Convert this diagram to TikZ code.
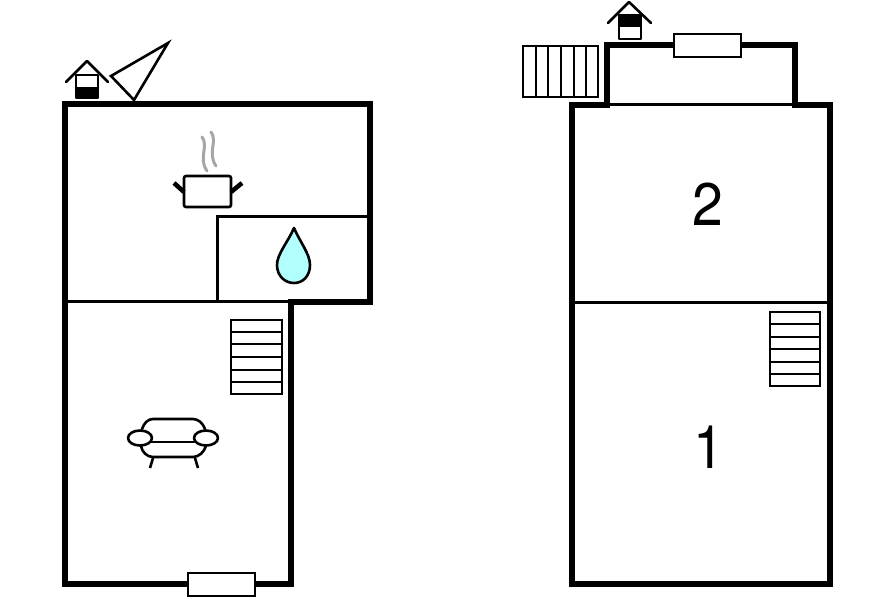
\documentclass[tikz,border=0pt]{standalone}
\usepackage{fontspec}
\setmainfont{TeX Gyre Heros}
\definecolor{dropblue}{HTML}{B2FFFF}
\tikzset{
  wall/.style={line width=5.4pt, miter limit=10},
  thinwall/.style={line width=3pt},
  fitting/.style={draw, fill=white, line width=2.6pt},
  symbol/.style={line width=2.6pt, line cap=round, line join=round},
  steam/.style={line width=3pt, gray!70, line cap=round},
  number/.style={inner sep=0pt, xscale=0.92, font=\fontsize{60}{62}\selectfont}
}
\begin{document}
\begin{tikzpicture}[x=1pt, y=-1pt]
  \useasboundingbox (0,0) rectangle (896,597);
  % left plan
  \draw[thinwall] (65,301) -- (291,301);
  \draw[thinwall] (217,301) -- (217,216) -- (370,216);
  \draw[wall] (65,104) -- (370,104) -- (370,302) -- (291,302) -- (291,584) -- (65,584) -- cycle;
  \draw[fitting] (188,573) rectangle (255,596);
  % stairs
  \draw[fitting] (231,320) rectangle (282,394);
  \foreach \y in {332,344,357,370,382}
    \draw[line width=2.6pt] (231,\y) -- (282,\y);
  % house and triangle
  \fill (75,87) rectangle (99,98);
  \draw[symbol] (76,75) rectangle (98,98);
  \draw[symbol] (66,82) -- (87,61) -- (108,82);
  \draw[symbol, line join=miter] (168,43) -- (111,76) -- (134,100) -- cycle;
  % pot
  \draw[symbol, line cap=butt, rounded corners=2pt] (184,176) -- (231,176) -- (231,207) -- (184,207) -- cycle;
  \draw[line width=4.5pt] (174,183) -- (184,192);
  \draw[line width=4.5pt] (242,183) -- (231,192);
  \draw[steam] (202,137) .. controls (209,146) and (198,158) .. (207,171);
  \draw[steam] (211,132) .. controls (218,141) and (207,153) .. (216,166);
  % drop
  \draw[symbol, fill=dropblue] (294,228) .. controls (288,242) and (277,254) .. (277,265) .. controls (277,276) and (285,283) .. (294,283) .. controls (303,283) and (310,276) .. (310,265) .. controls (310,254) and (300,242) .. (294,228) -- cycle;
  % sofa
  \draw[symbol] (142,429) .. controls (144,423) and (148,419) .. (153,419) -- (193,419) .. controls (198,419) and (203,423) .. (205,429);
  \draw[symbol] (150,442) -- (194,442);
  \draw[symbol] (141,446) .. controls (142,452) and (147,457) .. (153,457) -- (193,457) .. controls (199,457) and (204,452) .. (206,446);
  \draw[symbol, line cap=butt] (153,458) -- (150,468);
  \draw[symbol, line cap=butt] (195,458) -- (198,468);
  \draw[symbol] (140,438) ellipse (12 and 7.5);
  \draw[symbol] (206,438) ellipse (12 and 7.5);
  % right plan
  \draw[thinwall] (607,104) -- (795,104);
  \draw[thinwall] (572,302) -- (830,302);
  \draw[wall] (572,105) -- (607,105) -- (607,45) -- (795,45) -- (795,105) -- (830,105) -- (830,584) -- (572,584) -- cycle;
  \draw[fitting] (674,34) rectangle (741,57);
  % outside stairs
  \draw[fitting] (523,46) rectangle (598,97);
  \foreach \x in {536,548,561,574,586}
    \draw[line width=2.6pt] (\x,46) -- (\x,97);
  % inside stairs
  \draw[fitting] (770,312) rectangle (820,386);
  \foreach \y in {324,337,349,362,374}
    \draw[line width=2.6pt] (770,\y) -- (820,\y);
  % house
  \fill (618,15) rectangle (642,27);
  \draw[symbol] (619,15) rectangle (641,39);
  \draw[symbol] (608,23) -- (629,2) -- (651,23);
  % floor numbers
  \node[number] (upper) at (708,204) {2};
  \node[number] (lower) at (709,447) {1};
\end{tikzpicture}
\end{document}
